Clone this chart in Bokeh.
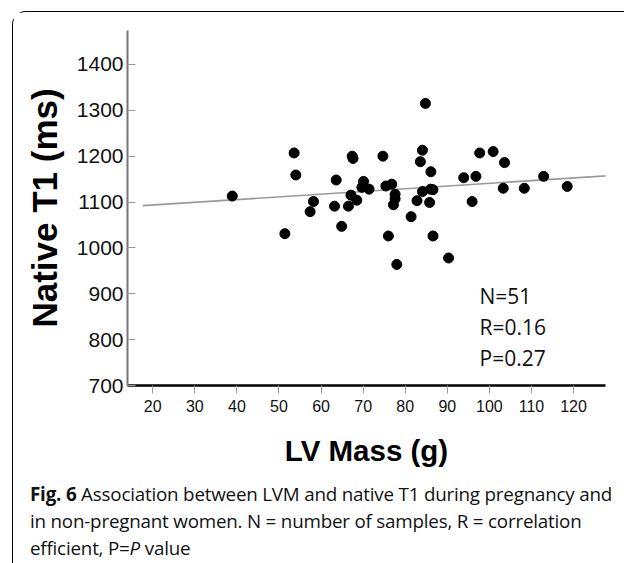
from bokeh.plotting import figure
from bokeh.models import Range1d, Label, FixedTicker, Div
from bokeh.layouts import column
from bokeh.embed import file_html
from bokeh.resources import INLINE

# ---- data ----
lv_mass = [38.9, 53.6, 54.0, 51.4, 58.2, 57.4, 63.6, 63.2, 64.9, 66.5,
           67.4, 67.6, 67.1, 68.5, 70.1, 69.7, 71.4, 74.7, 75.4, 76.8,
           77.6, 77.6, 77.2, 76.0, 78.0, 84.1, 83.6, 86.1, 84.1, 86.0,
           86.6, 82.8, 85.8, 81.4, 86.6, 90.3, 93.9, 96.8, 95.9, 97.7,
           100.9, 103.6, 103.3, 108.3, 112.9, 118.5, 84.8]
native_t1 = [1113, 1207, 1159, 1031, 1101, 1079, 1148, 1091, 1047, 1091,
             1200, 1195, 1115, 1104, 1145, 1132, 1128, 1200, 1135, 1139,
             1117, 1107, 1094, 1026, 964, 1213, 1188, 1166, 1123, 1128,
             1127, 1103, 1099, 1068, 1026, 978, 1153, 1156, 1101, 1207,
             1210, 1186, 1130, 1130, 1156, 1134, 1315]
fit_intercept = 1081.7
fit_slope = 0.59
fit_x = [17.6, 128.3]
x_ticks = [20, 30, 40, 50, 60, 70, 80, 90, 100, 110, 120]
y_ticks = [700, 800, 900, 1000, 1100, 1200, 1300, 1400]
stats_lines = ["N=51", "R=0.16", "P=0.27"]
caption_bold = "Fig. 6"
caption_lines = ["Association between LVM and native T1 during pregnancy and",
                 "in non-pregnant women. N = number of samples, R = correlation",
                 "efficient, P=<i>P</i> value"]

p = figure(width=610, height=464, output_backend="svg", toolbar_location=None,
           x_range=Range1d(14, 127.6), y_range=Range1d(700, 1474),
           min_border_left=114, min_border_right=18, min_border_top=18,
           min_border_bottom=91)
p.outline_line_color = None
p.xgrid.visible = False
p.ygrid.visible = False
p.background_fill_color = "white"
p.border_fill_color = "white"

# regression line
fit_y = [fit_intercept + fit_slope * v for v in fit_x]
p.line(fit_x, fit_y, line_color="#9a9a9a", line_width=1.6)
# points
p.scatter(lv_mass, native_t1, size=10, color="black")

# axes
xa = p.xaxis[0]
xa.ticker = FixedTicker(ticks=x_ticks)
xa.axis_line_color = "black"
xa.axis_line_width = 2.5
xa.major_tick_line_color = "#999999"
xa.major_tick_out = 8
xa.major_tick_in = 0
xa.minor_tick_line_color = None
xa.major_label_text_font = "Liberation Sans"
xa.major_label_text_font_size = "16px"
xa.major_label_text_color = "#111111"
xa.major_label_standoff = 6
xa.axis_label = "LV Mass (g)"
xa.axis_label_text_font = "Liberation Sans"
xa.axis_label_text_font_style = "bold"
xa.axis_label_text_font_size = "29.5px"
xa.axis_label_text_color = "black"
xa.axis_label_standoff = 19

ya = p.yaxis[0]
ya.ticker = FixedTicker(ticks=y_ticks)
ya.axis_line_color = "#777777"
ya.axis_line_width = 2
ya.major_tick_line_color = "#999999"
ya.major_tick_out = 0
ya.major_tick_in = 8
ya.minor_tick_line_color = None
ya.major_label_text_font = "Liberation Sans"
ya.major_label_text_font_size = "21px"
ya.major_label_text_color = "#111111"
ya.major_label_standoff = 4
ya.axis_label = "Native T1 (ms)"
ya.axis_label_text_font = "Liberation Sans"
ya.axis_label_text_font_style = "bold"
ya.axis_label_text_font_size = "35px"
ya.axis_label_text_color = "black"
ya.axis_label_standoff = 10

# stats text
for i, s in enumerate(stats_lines):
    p.add_layout(Label(x=352, y=76 - i * 31, x_units="screen", y_units="screen",
                       text=s, text_font="Open Sans", text_font_size="21px",
                       text_color="#111111"))

# caption
cap_html = ("<div style=\"font-family:'Open Sans';font-size:18.8px;line-height:27px;"
            "white-space:nowrap;color:#111;padding-left:12px;font-stretch:88%;"
            "letter-spacing:-0.2px;\">"
            "<b>" + caption_bold + "</b> " + caption_lines[0] + "<br>"
            + caption_lines[1] + "<br>" + caption_lines[2] + "</div>")
cap = Div(text=cap_html, width=610, height=84)

layout = column(p, cap, margin=(11, 0, 0, 12), spacing=0,
                styles={"border-left": "1.5px solid black",
                        "border-top": "1.5px solid black",
                        "border-top-left-radius": "14px"})

open("out.html", "w").write(file_html(layout, INLINE))
